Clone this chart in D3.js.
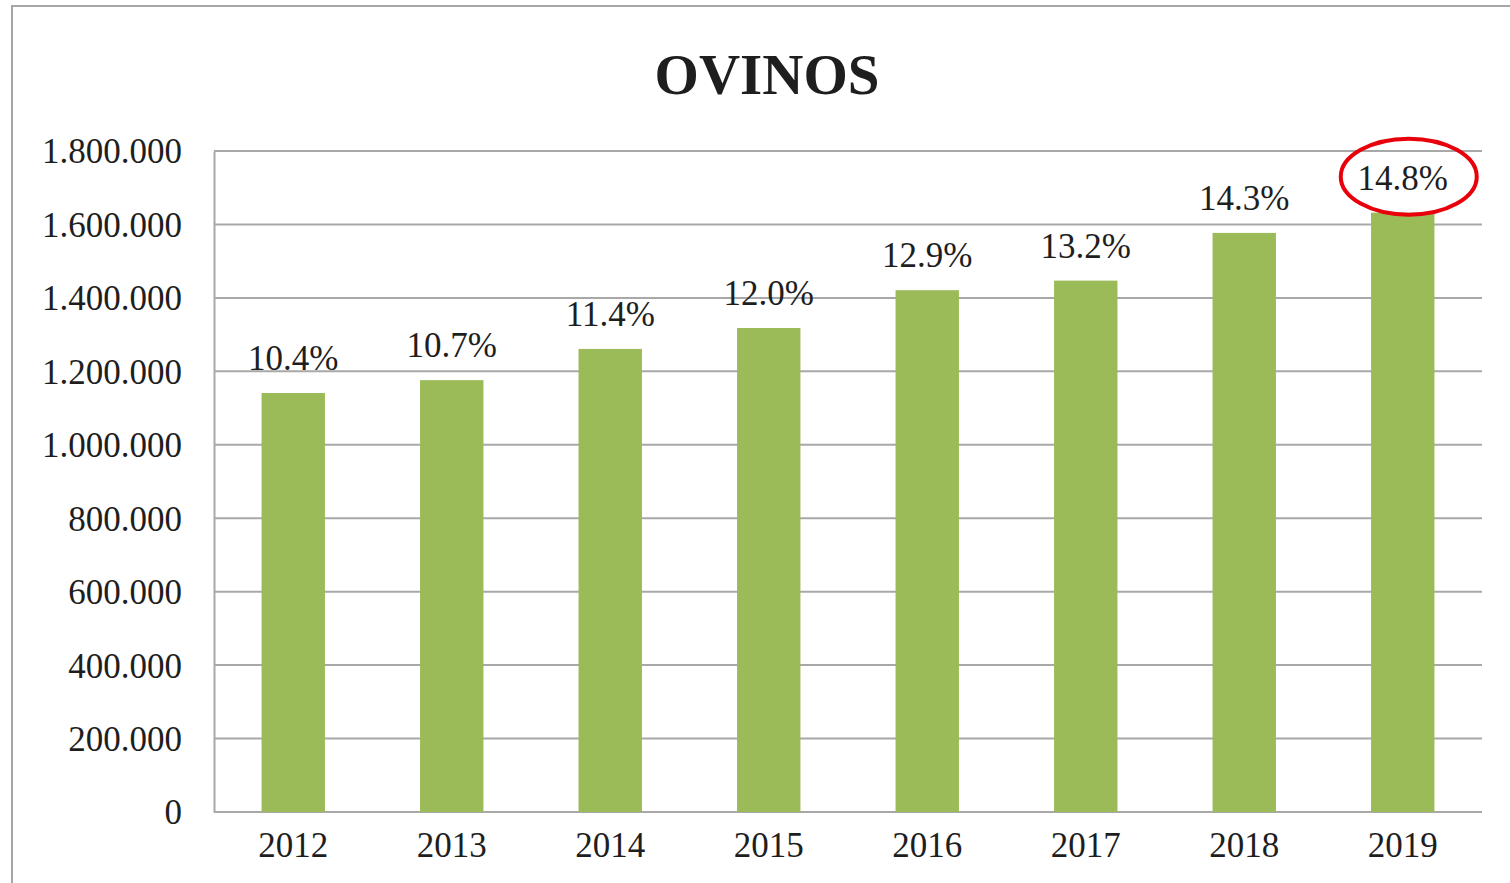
<!DOCTYPE html>
<html>
<head>
<meta charset="utf-8">
<script src="https://cdn.jsdelivr.net/npm/d3@7"></script>
<style>
  body { margin: 0; background: #fff; }
  svg text { font-family: "Liberation Serif", "DejaVu Serif", serif; fill: #1e1e1e; }
</style>
</head>
<body>
<div id="chart"></div>
<script>
// data
const years = ['2012', '2013', '2014', '2015', '2016', '2017', '2018', '2019'];
const heads = [1141000, 1176000, 1261000, 1318000, 1421000, 1447000, 1577000, 1632000];
const shares = ['10.4%', '10.7%', '11.4%', '12.0%', '12.9%', '13.2%', '14.3%', '14.8%'];
const yTicks = [0, 200000, 400000, 600000, 800000, 1000000, 1200000, 1400000, 1600000, 1800000];

const W = 1510, H = 883;
const plot = { left: 214, right: 1482, top: 151, bottom: 812 };

const svg = d3
  .select('#chart')
  .append('svg')
  .attr('width', W)
  .attr('height', H);

// outer chart frame (runs off the right and bottom edge)
svg.append('rect')
  .attr('x', 12)
  .attr('y', 6)
  .attr('width', W + 20)
  .attr('height', H + 20)
  .attr('fill', 'none')
  .attr('stroke', '#a6a6a6')
  .attr('stroke-width', 2);

const x = d3.scaleBand()
  .domain(years)
  .range([plot.left, plot.right])
  .paddingInner(0.6)
  .paddingOuter(0.3);

const y = d3.scaleLinear()
  .domain([0, 1800000])
  .range([plot.bottom, plot.top]);

const loc = d3.formatLocale({ decimal: ',', thousands: '.', grouping: [3], currency: ['', ''] });
const fmt = loc.format(',');

// gridlines
svg.append('g')
  .selectAll('line')
  .data(yTicks)
  .enter()
  .append('line')
  .attr('x1', plot.left)
  .attr('x2', plot.right)
  .attr('y1', d => y(d))
  .attr('y2', d => y(d))
  .attr('stroke', '#a8a8a8')
  .attr('stroke-width', 2);

// y axis
const yAxis = svg.append('g')
  .attr('transform', `translate(${plot.left},0)`)
  .call(d3.axisLeft(y).tickValues(yTicks).tickFormat(fmt).tickSize(0).tickPadding(32));
yAxis.select('.domain').attr('stroke', '#a8a8a8').attr('stroke-width', 2);
yAxis.selectAll('text')
  .attr('font-size', 35)
  .attr('font-family', null)
  .attr('fill', null)
  .attr('dy', '0.34em');

// bars
svg.append('g')
  .selectAll('rect')
  .data(years)
  .enter()
  .append('rect')
  .attr('x', d => x(d))
  .attr('y', (d, i) => y(heads[i]))
  .attr('width', x.bandwidth())
  .attr('height', (d, i) => y(0) - y(heads[i]))
  .attr('fill', '#9bbb59');

// x axis
const xAxis = svg.append('g')
  .attr('transform', `translate(0,${plot.bottom})`)
  .call(d3.axisBottom(x).tickSize(0).tickPadding(20));
xAxis.select('.domain').remove();
xAxis.selectAll('text')
  .attr('font-size', 35)
  .attr('font-family', null)
  .attr('fill', null)
  .attr('dy', '0.71em');

// share labels above bars
svg.append('g')
  .selectAll('text')
  .data(years)
  .enter()
  .append('text')
  .attr('x', d => x(d) + x.bandwidth() / 2)
  .attr('y', (d, i) => y(heads[i]) - 23)
  .attr('text-anchor', 'middle')
  .attr('font-size', 35)
  .text((d, i) => shares[i]);

// red highlight around last label
const last = years[years.length - 1];
svg.append('ellipse')
  .attr('cx', x(last) + x.bandwidth() / 2 + 6)
  .attr('cy', y(heads[heads.length - 1]) - 36)
  .attr('rx', 68)
  .attr('ry', 38)
  .attr('fill', 'none')
  .attr('stroke', '#e8000b')
  .attr('stroke-width', 4);

// title
svg.append('text')
  .attr('x', 767)
  .attr('y', 94)
  .attr('text-anchor', 'middle')
  .attr('font-size', 57)
  .attr('font-weight', 'bold')
  .attr('fill', '#000')
  .text('OVINOS');
</script>
</body>
</html>
